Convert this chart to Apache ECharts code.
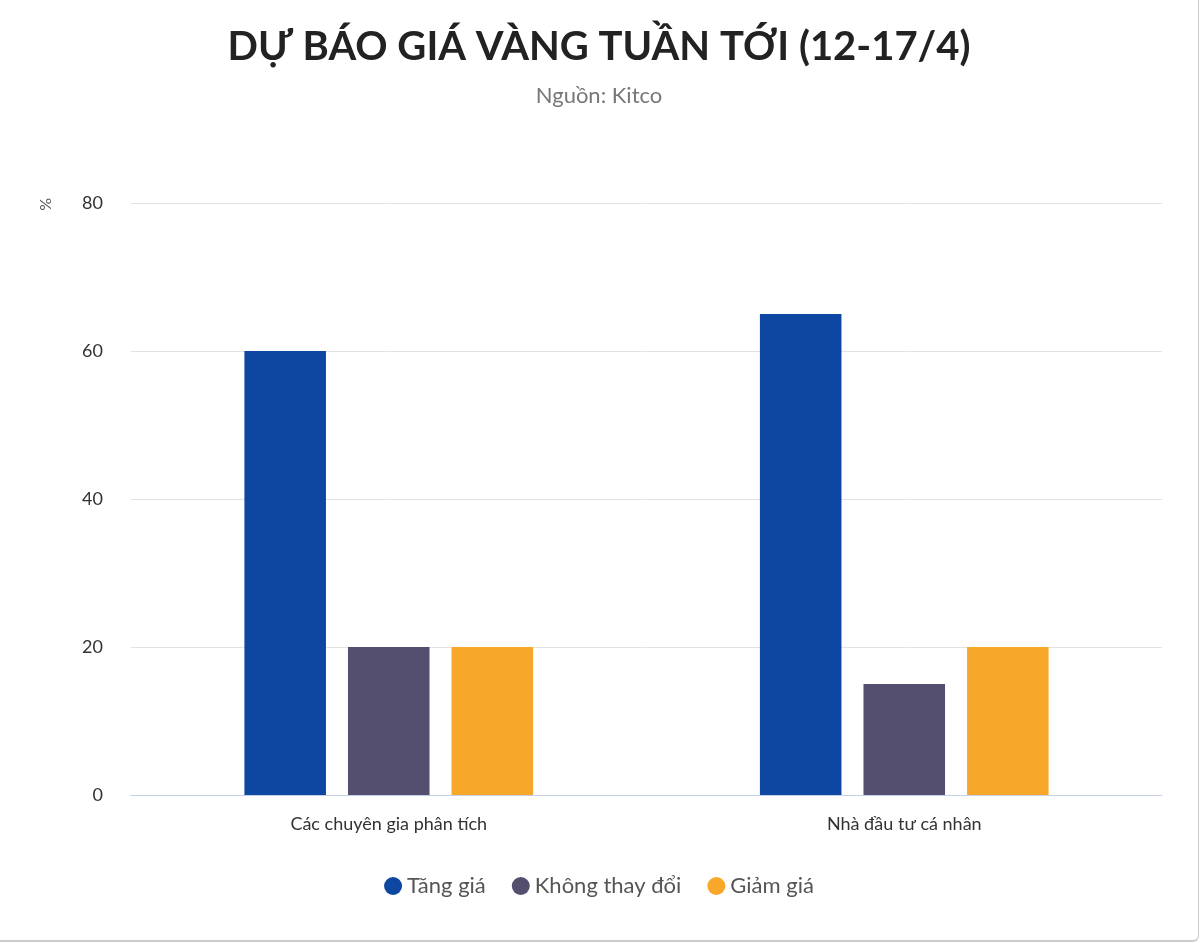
<!DOCTYPE html>
<html><head><meta charset="utf-8">
<script src="https://cdn.jsdelivr.net/npm/echarts@6/dist/echarts.min.js"></script>
<style>html,body{margin:0;padding:0;background:#fff}#c{width:1198px;height:940px;border-right:1px solid #ccc;border-bottom:2px solid #ccc;border-radius:0 0 6px 0}</style>
</head><body><div id="c"></div>
<script>
const categories = ["Các chuyên gia phân tích", "Nhà đầu tư cá nhân"];
const seriesNames = ["Tăng giá", "Không thay đổi", "Giảm giá"];
const tangGia = [60, 65];
const khongDoi = [20, 15];
const giamGia = [20, 20];
const colors = ["#0e47a1", "#544f6f", "#f7a82a"];
const F = "Lato, 'Open Sans', sans-serif";
const chart = echarts.init(document.getElementById('c'));
chart.setOption({
  animation: false,
  color: colors,
  title: {
    text: "DỰ BÁO GIÁ VÀNG TUẦN TỚI (12-17/4)", subtext: "Nguồn: Kitco",
    left: 'center', top: 22, itemGap: 18,
    textStyle: {fontFamily: F, fontSize: 40, fontWeight: 'bold', color: '#222'},
    subtextStyle: {fontFamily: F, fontSize: 22, color: '#777'}
  },
  graphic: [{type: 'text', left: 38, top: 198, rotation: Math.PI/2,
    style: {text: '%', font: '16px Lato', fill: '#555'}}],
  legend: {bottom: 38, itemWidth: 18, itemHeight: 18, icon: 'circle', itemGap: 26,
    textStyle: {fontFamily: F, fontSize: 22, color: '#555'}},
  grid: {left: 131, right: 36, top: 203, bottom: 145},
  xAxis: {type: 'category', data: categories,
    axisLine: {lineStyle: {color: '#c5d0e6'}}, axisTick: {show: false},
    axisLabel: {fontFamily: F, fontSize: 18, color: '#333', margin: 20}},
  yAxis: {type: 'value', min: 0, max: 80, interval: 20,
    axisLabel: {fontFamily: F, fontSize: 18, color: '#333', margin: 28},
    splitLine: {lineStyle: {color: '#e3e3e3'}}},
  series: [
    {name: seriesNames[0], type: 'bar', data: tangGia, barGap: '27%', barCategoryGap: '44%'},
    {name: seriesNames[1], type: 'bar', data: khongDoi},
    {name: seriesNames[2], type: 'bar', data: giamGia}
  ]
});
</script></body></html>
